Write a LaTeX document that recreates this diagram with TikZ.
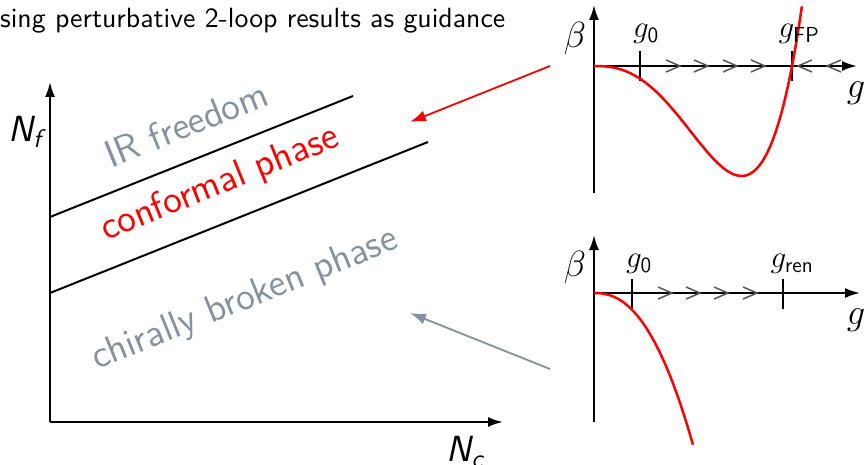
\RequirePackage{fix-cm}
\documentclass[tikz,border=0pt]{standalone}
\usepackage{amsmath}
\usepackage{fontspec}
\usetikzlibrary{arrows.meta}
\newfontfamily\slidefont{lmsans10-regular.otf}[ItalicFont=lmsans10-oblique.otf]
\newfontfamily\phasefont{lmsans12-regular.otf}[ItalicFont=lmsans12-oblique.otf]
\definecolor{phasegray}{HTML}{8391A0}
\definecolor{chevgray}{HTML}{555555}
\definecolor{flowred}{HTML}{FF0000}
\newcommand\subsf[1]{\text{\phasefont #1}}

\tikzset{
  axis/.style={line width=2pt,-{Latex[length=15pt,width=10pt]}},
  boundary/.style={line width=2pt},
  betacurve/.style={line width=2.5pt,flowred},
  tickmark/.style={line width=1.8pt},
  chev/.style={line width=1.5pt,chevgray},
  phaselabel/.style={font=\fontsize{38.4}{42}\phasefont,rotate=22,inner sep=0pt},
  axlabel/.style={font=\fontsize{36.4}{40}\selectfont,inner sep=0pt},
  ticklabel/.style={font=\fontsize{31}{34}\selectfont,inner sep=0pt},
  pointer/.style={line width=1.8pt,-{Latex[length=16pt,width=11pt]}},
}

\begin{document}
\begin{tikzpicture}[x=1pt,y=-1pt]
\useasboundingbox (0,0) rectangle (864,465);
\clip (0,0) rectangle (864,465);

\node[anchor=base west,inner sep=0pt,font=\fontsize{27.8}{32}\slidefont] (title) at (0,28) {sing perturbative 2-loop results as guidance};

% phase diagram
\coordinate (pdO) at (50,422);
\coordinate (pdTop) at (50,82);
\coordinate (pdRight) at (503,422);
\draw[axis] (pdO) -- (pdTop);
\draw[axis] (pdO) -- (pdRight);
\node[axlabel] (nf) at (25,132) {\phasefont\itshape N\textsubscript{f}};
\node[axlabel] (nc) at (465,452) {\phasefont\itshape N\textsubscript{c}};

\coordinate (upA) at (50,217);
\coordinate (upB) at (353,96);
\coordinate (lowA) at (50,293);
\coordinate (lowB) at (428,142);
\draw[boundary] (upA) -- (upB);
\draw[boundary] (lowA) -- (lowB);

\node[phaselabel,phasegray] (irfree) at (186,124) {IR freedom};
\node[phaselabel,flowred] (conf) at (220,184) {conformal phase};
\node[phaselabel,phasegray] (chiral) at (245,300) {chirally broken phase};

% beta function with fixed point
\coordinate (fpO) at (594,66);
\coordinate (fpBot) at (594,193);
\coordinate (fpTop) at (594,5);
\coordinate (fpRight) at (857,66);
\draw[axis] (fpBot) -- (fpTop);
\draw[axis] (fpO) -- (fpRight);
\draw[tickmark] (640,51) -- ++(0,30);
\draw[tickmark] (792,51) -- ++(0,30);
\foreach \cx in {680,708,737,765}
  \draw[chev] (\cx-14,60) -- (\cx,66) -- (\cx-14,72);
\foreach \cx in {798,827}
  \draw[chev] (\cx+14,60) -- (\cx,66) -- (\cx+14,72);
\draw[betacurve] plot[domain=0:1.05,samples=80,smooth] ({594+198*\x},{66+516*\x*\x*sqrt(\x)*(1-\x*\x)});
\node[axlabel] (fpbeta) at (575,38) {$\beta$};
\node[axlabel] (fpg) at (856,93) {$g$};
\node[ticklabel] (fpgzero) at (646,34) {$g_{\subsf{0}}$};
\node[ticklabel] (fpgfp) at (799,34) {$g_{\subsf{FP}}$};

% beta function without fixed point
\coordinate (chO) at (594,293);
\coordinate (chBot) at (594,422);
\coordinate (chTop) at (594,235);
\coordinate (chRight) at (860,293);
\draw[axis] (chBot) -- (chTop);
\draw[axis] (chO) -- (chRight);
\draw[tickmark] (632,279) -- ++(0,30);
\draw[tickmark] (783,279) -- ++(0,30);
\foreach \cx in {672,700,728,757}
  \draw[chev] (\cx-14,287) -- (\cx,293) -- (\cx-14,299);
\draw[betacurve] (chO) -- plot[domain=0.02:1,samples=60,smooth] ({594+99*\x},{293+152*\x^2.3});
\node[axlabel] (chbeta) at (575,267) {$\beta$};
\node[axlabel] (chg) at (856,320) {$g$};
\node[ticklabel] (chgzero) at (639,264) {$g_{\subsf{0}}$};
\node[ticklabel] (chgren) at (792,264) {$g_{\subsf{ren}}$};

% pointers
\coordinate (redtail) at (550,66);
\coordinate (redhead) at (410,122);
\coordinate (graytail) at (550,369);
\coordinate (grayhead) at (410,313);
\draw[pointer,flowred] (redtail) -- (redhead);
\draw[pointer,phasegray] (graytail) -- (grayhead);
\end{tikzpicture}
\end{document}
